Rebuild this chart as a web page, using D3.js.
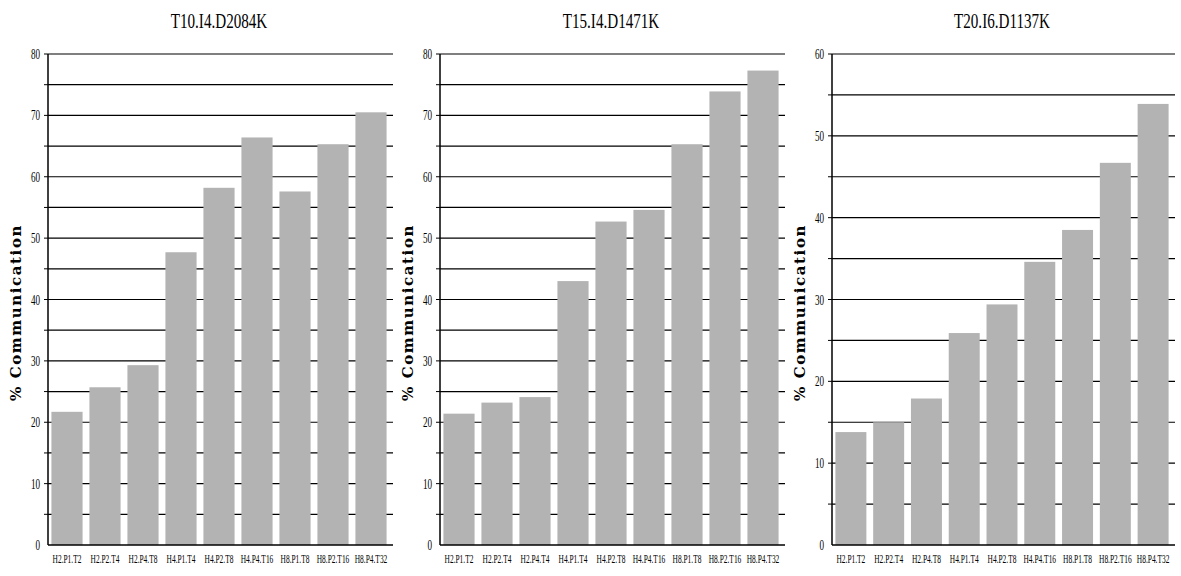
<!DOCTYPE html>
<meta charset="utf-8">
<style>
body { margin: 0; background: #fff; }
text { font-family: 'Liberation Serif', serif; }
</style>
<svg width="1181" height="576"></svg>
<script src="https://cdn.jsdelivr.net/npm/d3@7"></script>
<script>
var titles = ["T10.I4.D2084K", "T15.I4.D1471K", "T20.I6.D1137K"];
var cats1 = ["H2.P1.T2","H2.P2.T4","H2.P4.T8","H4.P1.T4","H4.P2.T8","H4.P4.T16","H8.P1.T8","H8.P2.T16","H8.P4.T32"];
var cats2 = ["H2.P1.T2","H2.P2.T4","H2.P4.T4","H4.P1.T4","H4.P2.T8","H4.P4.T16","H8.P1.T8","H8.P2.T16","H8.P4.T32"];
var vals1 = [21.7, 25.7, 29.3, 47.7, 58.2, 66.4, 57.6, 65.3, 70.5];
var vals2 = [21.4, 23.2, 24.1, 43.0, 52.7, 54.6, 65.3, 73.9, 77.3];
var vals3 = [13.8, 15.0, 17.9, 25.9, 29.4, 34.6, 38.5, 46.7, 53.9];
var yMax = [80, 80, 60];

var panels = [
  {title: titles[0], cats: cats1, vals: vals1, max: yMax[0], x0: 48, x1: 390},
  {title: titles[1], cats: cats2, vals: vals2, max: yMax[1], x0: 440, x1: 782},
  {title: titles[2], cats: cats1, vals: vals3, max: yMax[2], x0: 832, x1: 1172}
];

var svg = d3.select("svg");
var plotTop = 54, plotBottom = 545;

panels.forEach(function(p) {
  var g = svg.append("g");
  var x = d3.scaleBand().domain(p.cats).range([p.x0, p.x1]).paddingInner(0.18).paddingOuter(0.09);
  var y = d3.scaleLinear().domain([0, p.max]).range([plotBottom, plotTop]);
  var grid = d3.range(5, p.max + 1, 5);

  // grid lines
  g.selectAll(".grid").data(grid).enter().append("line")
    .attr("x1", p.x0).attr("x2", p.x1 + 3)
    .attr("y1", function(d) { return y(d); }).attr("y2", function(d) { return y(d); })
    .attr("stroke", "#000").attr("stroke-width", 1.2);
  // left minor ticks
  g.selectAll(".tk").data(grid).enter().append("line")
    .attr("x1", p.x0 - 4).attr("x2", p.x0)
    .attr("y1", function(d) { return y(d); }).attr("y2", function(d) { return y(d); })
    .attr("stroke", "#000");

  g.selectAll("rect").data(p.vals).enter().append("rect")
    .attr("x", function(d, i) { return x(p.cats[i]); })
    .attr("width", x.bandwidth())
    .attr("y", function(d) { return y(d); })
    .attr("height", function(d) { return plotBottom - y(d); })
    .attr("fill", "#b3b3b3");

  // axes lines
  g.append("line").attr("x1", p.x0).attr("x2", p.x0).attr("y1", plotTop).attr("y2", plotBottom).attr("stroke", "#000").attr("stroke-width", 1.5);
  g.append("line").attr("x1", p.x0).attr("x2", p.x1 + 3).attr("y1", plotBottom).attr("y2", plotBottom).attr("stroke", "#000").attr("stroke-width", 1.5);

  // y tick labels
  g.selectAll(".yl").data(d3.range(0, p.max + 1, 10)).enter().append("text")
    .attr("transform", function(d) { return "translate(" + (p.x0 - 8) + "," + (y(d) + 5) + ") scale(0.65,1)"; })
    .attr("text-anchor", "end").attr("font-size", 14).text(function(d) { return d; });

  // x labels
  g.selectAll(".xl").data(p.cats).enter().append("text")
    .attr("transform", function(d) { return "translate(" + (x(d) + x.bandwidth() / 2) + ",563) scale(0.62,1)"; })
    .attr("text-anchor", "middle").attr("font-size", 12).text(function(d) { return d; });

  // title
  g.append("text")
    .attr("transform", "translate(" + ((p.x0 + p.x1) / 2) + ",28) scale(0.72,1)")
    .attr("text-anchor", "middle").attr("font-size", 21).text(p.title);

  // y label
  g.append("text")
    .attr("transform", "translate(" + (p.x0 - 27) + "," + ((plotTop + plotBottom) / 2 + 13) + ") rotate(-90)")
    .attr("text-anchor", "middle").attr("font-size", 15).attr("letter-spacing", 1.6)
    .attr("font-weight", "bold")
    .style("font-family", "'DejaVu Serif', serif").text("% Communication");
});
</script>
